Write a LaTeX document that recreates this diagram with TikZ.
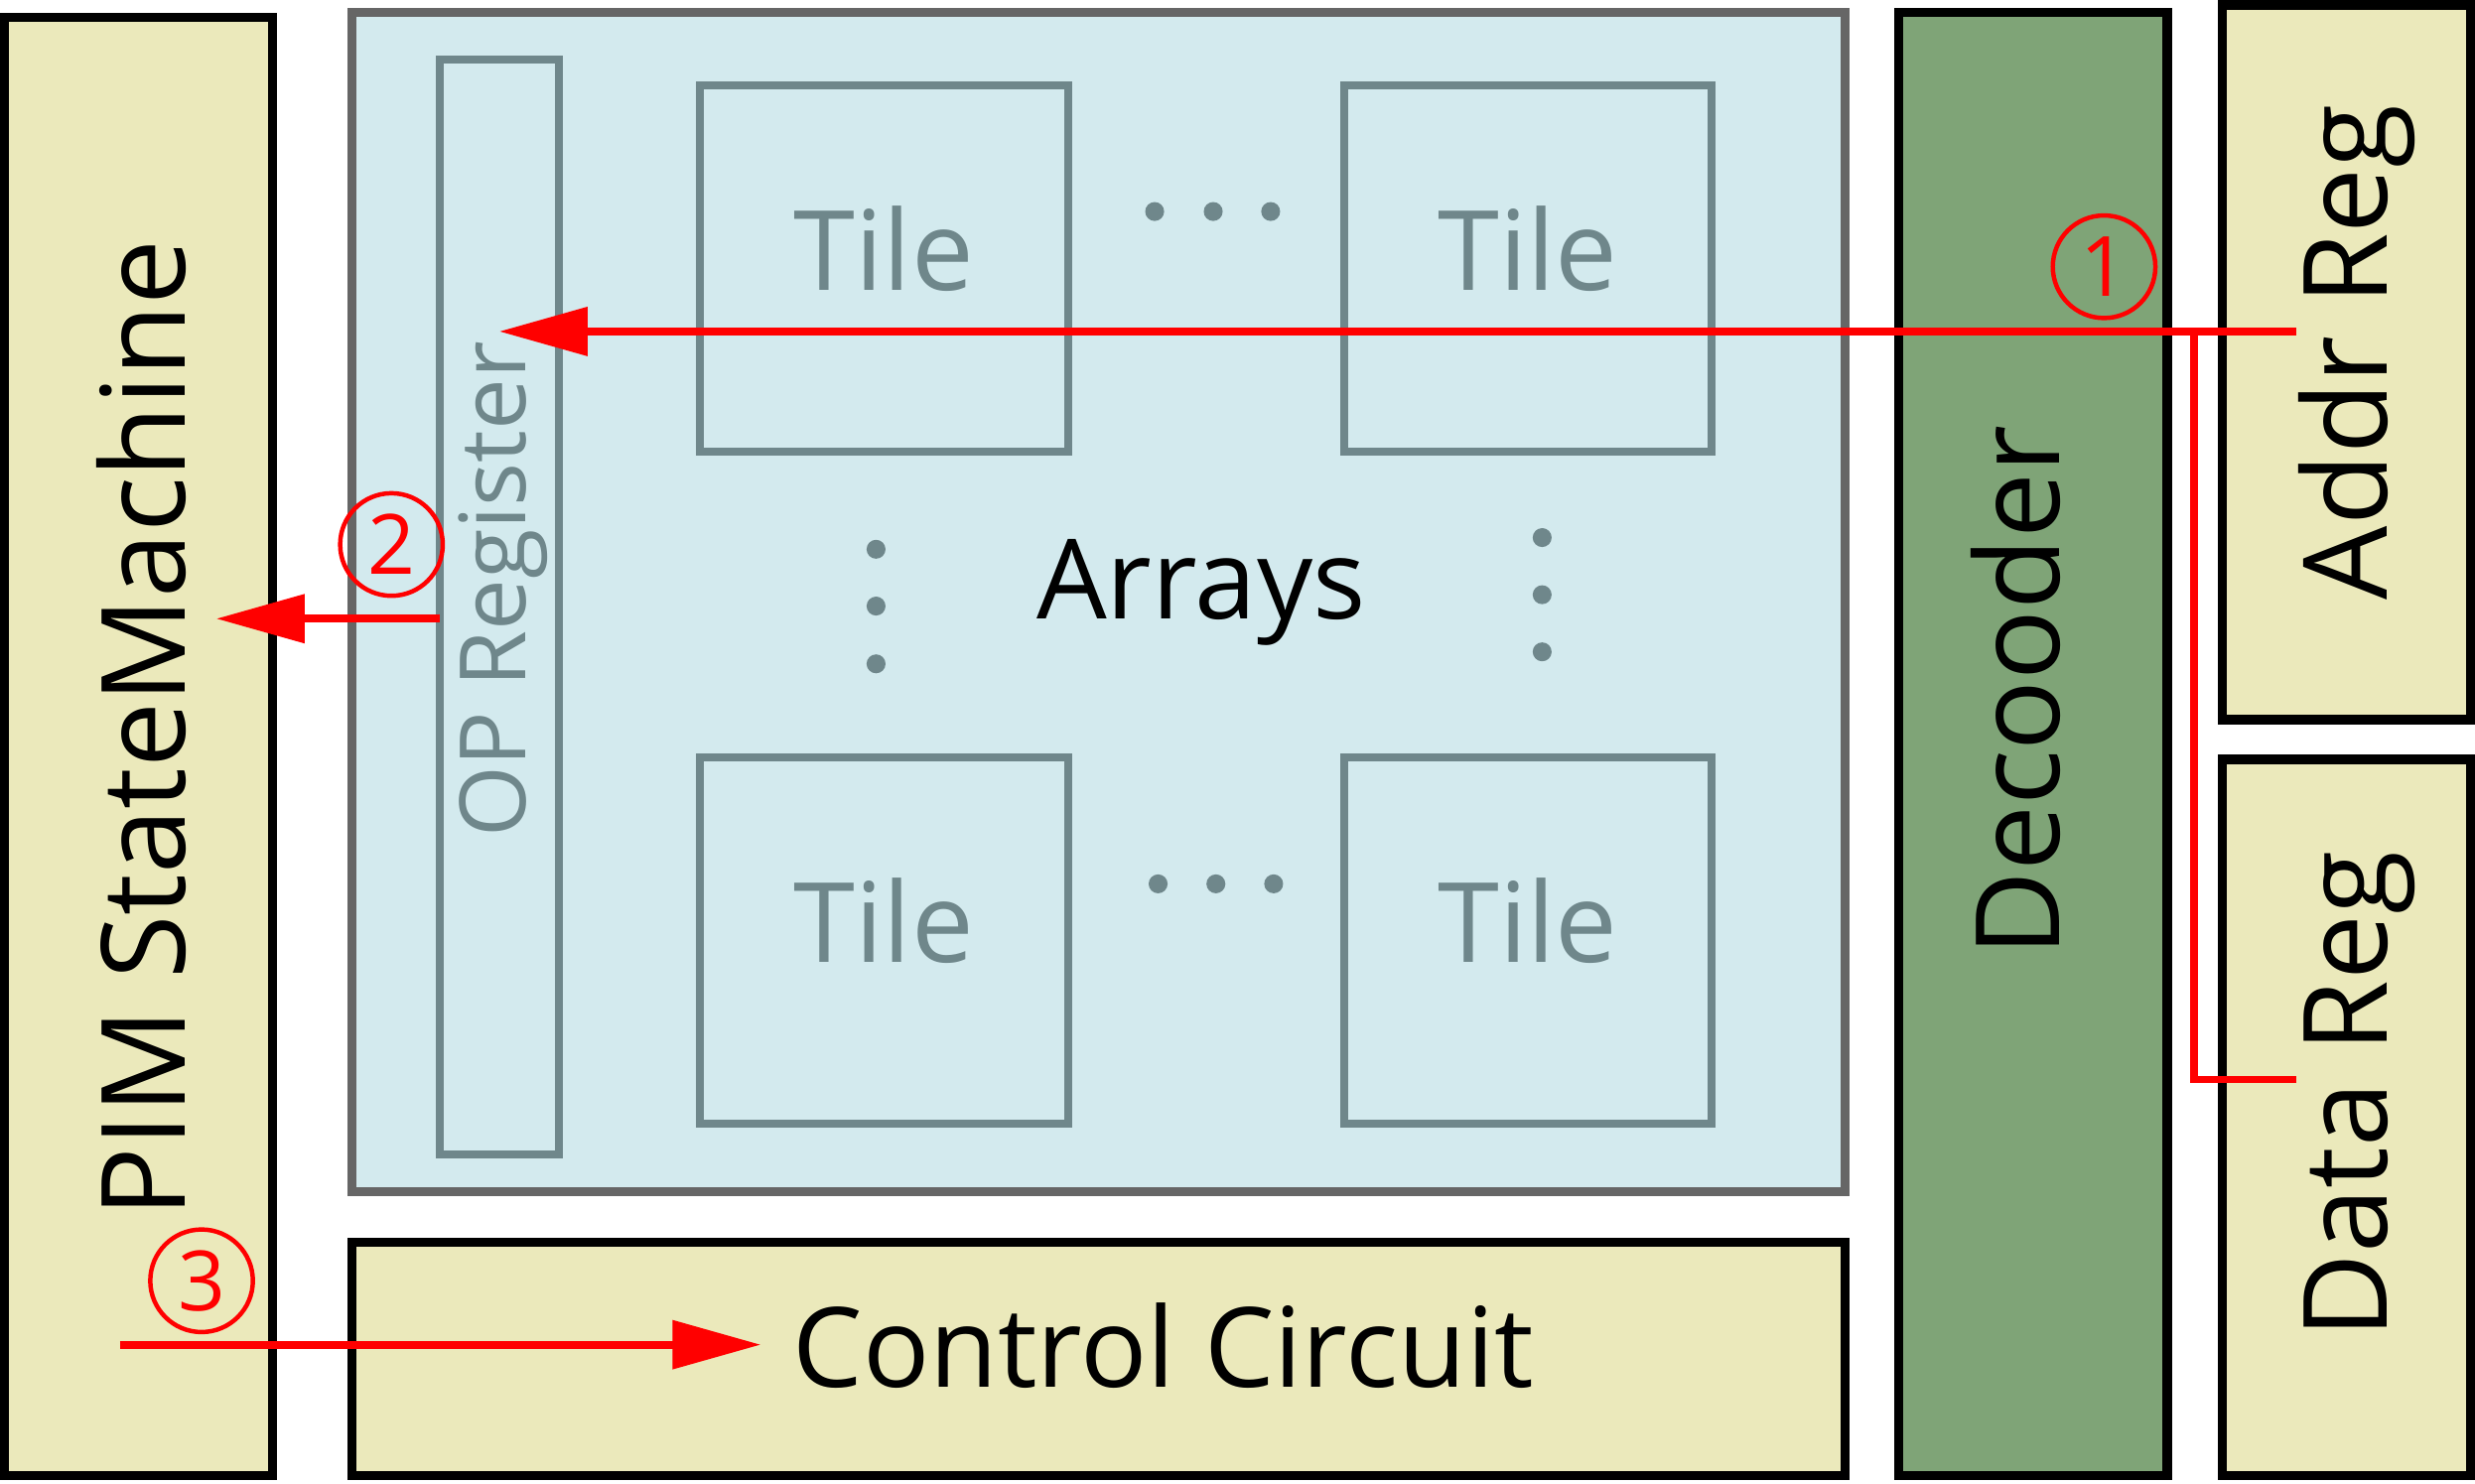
\documentclass[tikz,border=0pt]{standalone}
\usepackage{fontspec}
\setmainfont{Open Sans}
\usetikzlibrary{shapes,positioning,arrows.meta}

\definecolor{boxyellow}{HTML}{EBE9BB}
\definecolor{arrayblue}{HTML}{D3EAEE}
\definecolor{decgreen}{HTML}{7FA477}
\definecolor{tilegray}{HTML}{6F878B}
\definecolor{framegray}{HTML}{666666}

\begin{document}
\begin{tikzpicture}[font=\fontsize{20}{24}\selectfont,
    >={Triangle[length=5.6mm,width=3mm]},
    block/.style={draw, rectangle, line width=1.7pt, fill=boxyellow,
        inner sep=0, outer sep=0},
    tile/.style={draw=tilegray, rectangle, line width=1.4pt,
        inner sep=0, outer sep=0, minimum width=2.33cm, minimum height=2.32cm},
    tiletext/.style={text=tilegray, anchor=base},
    vtext/.style={rotate=90, anchor=base, font=\fontsize{21}{25}\selectfont},
    flow/.style={red, line width=1.4pt},
    stepnum/.style={circle, draw=red, text=red, line width=0.8pt,
        minimum size=6.5mm, inner sep=0, font=\fontsize{15}{18}\selectfont}]

\useasboundingbox (0,0) rectangle (15.68,-9.40);

% PIM state machine
\node[block,
    anchor=north west,
    minimum width=1.70cm,
    minimum height=9.24cm] (pim) at (0.026,-0.11) {};

% Arrays
\node[draw=framegray,
    fill=arrayblue,
    rectangle,
    line width=1.6pt,
    inner sep=0, outer sep=0,
    anchor=north west,
    minimum width=9.46cm,
    minimum height=7.47cm] (arrays) at (2.23,-0.08) {};

% Control circuit
\node[block,
    below=0.32cm of arrays,
    minimum width=9.46cm,
    minimum height=1.48cm] (control) {};

% Decoder
\node[block,
    fill=decgreen,
    right=0.34cm of arrays.north east,
    anchor=north west,
    minimum width=1.70cm,
    minimum height=9.27cm] (decoder) {};

% Registers
\node[block,
    anchor=north west,
    minimum width=1.57cm,
    minimum height=4.53cm] (addr) at (14.08,-0.03) {};

\node[block,
    below=0.25cm of addr,
    minimum width=1.57cm,
    minimum height=4.54cm] (data) {};

% OP register
\node[draw=tilegray,
    rectangle,
    line width=1.4pt,
    inner sep=0, outer sep=0,
    anchor=north west,
    minimum width=0.755cm,
    minimum height=6.94cm] (oprg) at (2.785,-0.375) {};

% Tiles
\node[tile] (tile11) at (5.60,-1.70) {};
\node[tile, right=1.75cm of tile11] (tile12) {};
\node[tile, below=1.94cm of tile11] (tile21) {};
\node[tile, right=1.75cm of tile21] (tile22) {};

\node[tiletext] (tile11txt) at ([yshift=-0.14cm]tile11.center) {Tile};
\node[tiletext] (tile12txt) at ([yshift=-0.14cm]tile12.center) {Tile};
\node[tiletext] (tile21txt) at ([yshift=-0.14cm]tile21.center) {Tile};
\node[tiletext] (tile22txt) at ([yshift=-0.14cm]tile22.center) {Tile};

% Dots
\fill[tilegray] (7.315,-1.34) circle (0.06) (7.686,-1.34) circle (0.06) (8.05,-1.34) circle (0.06);
\fill[tilegray] (7.337,-5.60) circle (0.06) (7.703,-5.60) circle (0.06) (8.069,-5.60) circle (0.06);
\fill[tilegray] (5.55,-3.48) circle (0.06) (5.55,-3.84) circle (0.06) (5.55,-4.206) circle (0.06);
\fill[tilegray] (9.77,-3.406) circle (0.06) (9.77,-3.768) circle (0.06) (9.77,-4.13) circle (0.06);

% Labels
\node[vtext] (pimtxt) at (1.17,-4.615) {PIM StateMachine};
\node[anchor=base] (arraystxt) at (7.61,-3.92) {Arrays};
\node[anchor=base] (controltxt) at (7.37,-8.79) {Control Circuit};
\node[vtext] (decodertxt) at (13.05,-4.377) {Decooder};
\node[vtext] (addrtxt) at (15.12,-2.23) {Addr Reg};
\node[vtext] (datatxt) at (15.12,-6.936) {Data Reg};
\node[vtext, text=tilegray, font=\fontsize{16.5}{19}\selectfont] (oprgtxt) at (3.33,-3.736) {OP Register};

% Steps
\node[stepnum] (step1) at (13.33,-1.69) {1};
\node[stepnum] (step2) at (2.48,-3.45) {2};
\node[stepnum] (step3) at (1.277,-8.115) {3};

\coordinate (addrout) at (14.545,-2.10);
\coordinate (dataout) at (14.545,-6.84);
\coordinate (branch) at (13.90,-2.10);
\coordinate (pimin) at (1.37,-3.92);
\coordinate (pimout) at (0.76,-8.52);
\coordinate (controlin) at (4.82,-8.52);

% Arrows
\draw[flow,->] (addrout) -- (oprg.center |- addrout);
\draw[flow] (dataout) -| (branch);
\draw[flow,->] (oprg.west |- pimin) -- (pimin);
\draw[flow,->] (pimout) -- (controlin);

\end{tikzpicture}
\end{document}
